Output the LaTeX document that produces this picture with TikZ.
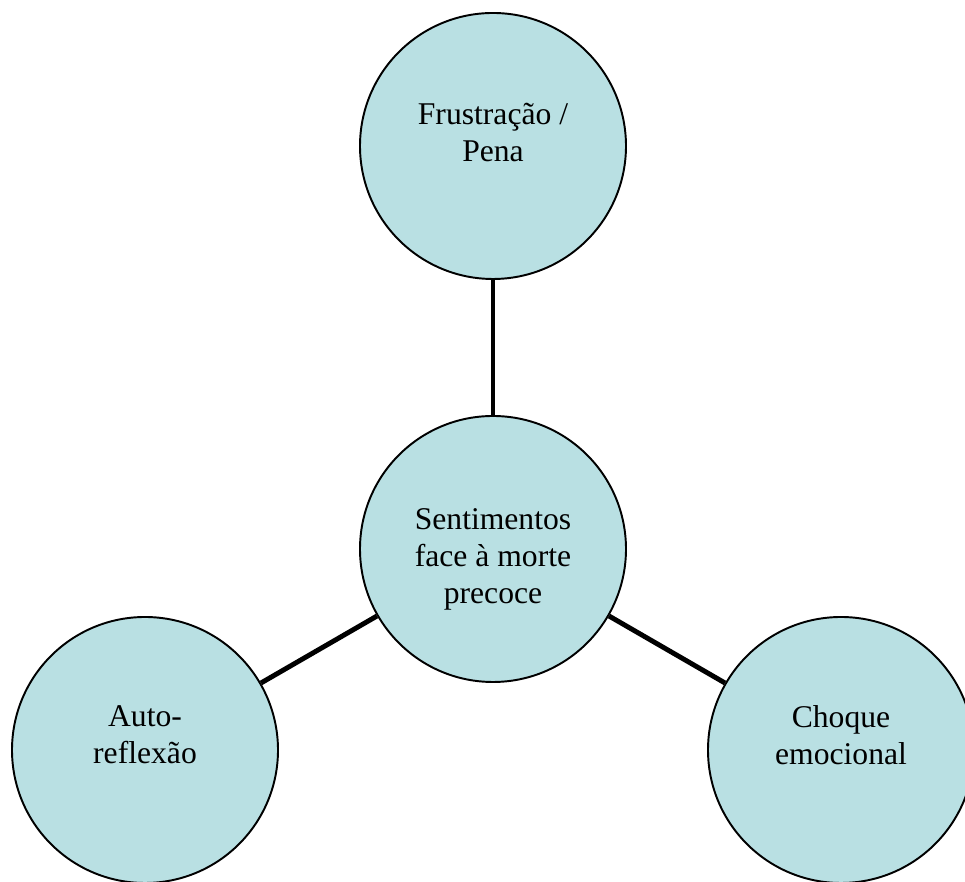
\documentclass[tikz,border=0pt]{standalone}
\usepackage{fontspec}
\setmainfont{Liberation Serif}
\definecolor{azulclaro}{RGB}{185,224,227}

\begin{document}
\begin{tikzpicture}[
    bolha/.style={circle, draw, line width=1.1pt, fill=azulclaro, minimum size=5.32cm, inner sep=0pt},
    texto/.style={align=center, inner sep=0pt, font=\fontsize{18}{21}\selectfont},
    ligacao/.style={line width=2.8pt}
  ]
    \useasboundingbox (0,0) rectangle (19.3,17.64);

    % Bolha central
    \node[bolha] (centro) at (9.86,6.66) {};
    \node[texto, yshift=-0.21cm] (centro-txt) at (centro) {Sentimentos\\face à morte\\precoce};

    % Bolhas exteriores
    \node[bolha] (frustracao) at (9.86,14.72) {};
    \node[texto, yshift=0.27cm] (frustracao-txt) at (frustracao) {Frustração /\\Pena};
    \node[bolha] (reflexao) at (2.9,2.64) {};
    \node[texto, yshift=0.3cm] (reflexao-txt) at (reflexao) {Auto-\\reflexão};
    \node[bolha] (choque) at (16.82,2.64) {};
    \node[texto, yshift=0.29cm] (choque-txt) at (choque) {Choque\\emocional};

    % Ligações
    \draw[ligacao] (centro) -- (frustracao);
    \draw[ligacao] (centro) -- (reflexao);
    \draw[ligacao] (centro) -- (choque);
\end{tikzpicture}
\end{document}
